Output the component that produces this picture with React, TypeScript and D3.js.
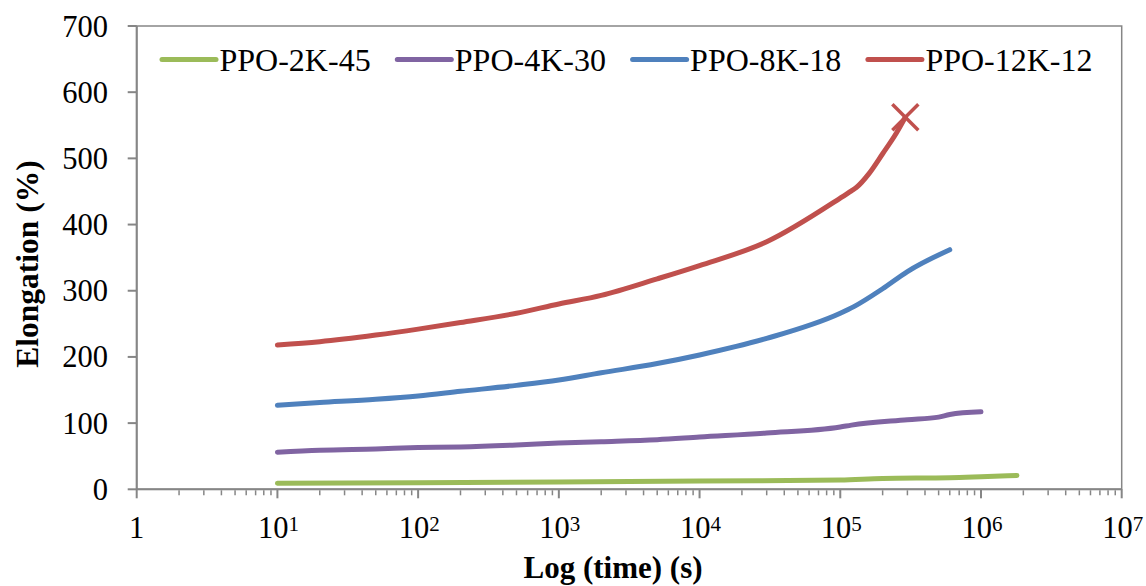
import React from "react";
import * as d3 from "d3";

// Elongation (%) versus time (s) for four PPO-based samples
const seriesNames = ["PPO-2K-45", "PPO-4K-30", "PPO-8K-18", "PPO-12K-12"];
const seriesColors = ["#9BBB59", "#8064A2", "#4F81BD", "#C0504D"];

const time2K = [10, 100, 1000, 1e4, 1e5, 2e5, 6e5, 1e6, 1.8e6];
const elong2K = [9, 10, 11, 12.5, 14, 16.5, 17.5, 19, 21];

const time4K = [10, 20, 50, 100, 200, 500, 1000, 2000, 5000, 1e4, 3e4, 1e5, 1.2e5, 3e5, 5e5, 6e5, 1e6];
const elong4K = [56, 59, 61, 63, 64, 67, 70, 72, 75, 79, 85, 94, 97, 105, 109, 113, 117];

const time8K = [10, 20, 50, 100, 200, 500, 1000, 2000, 5000, 1e4, 3e4, 1e5, 1.25e5, 2e5, 3e5, 6e5];
const elong8K = [127, 131, 136, 141, 148, 157, 165, 176, 190, 203, 228, 266, 276, 303, 329, 362];

const time12K = [10, 20, 50, 100, 200, 500, 1000, 2000, 5000, 1e4, 3e4, 1e5, 1.2e5, 1.3e5, 1.6e5, 2e5, 2.5e5, 2.9e5];
const elong12K = [218, 223, 233, 242, 252, 266, 280, 293, 318, 338, 374, 440, 451, 456, 477, 507, 538, 562];

const yTicks = [0, 100, 200, 300, 400, 500, 600, 700];
const xDecades = [0, 1, 2, 3, 4, 5, 6, 7];

const W = 1146;
const H = 586;
const left = 136.7;
const right = 1121.7;
const top = 26;
const bottom = 489.3;
const axisColor = "#868686";
const font = "'Liberation Serif', 'Times New Roman', serif";

export default function App() {
  const x = d3.scaleLog().domain([1, 1e7]).range([left, right]);
  const y = d3.scaleLinear().domain([0, 700]).range([bottom, top]);

  const series = [
    { t: time2K, v: elong2K },
    { t: time4K, v: elong4K },
    { t: time8K, v: elong8K },
    { t: time12K, v: elong12K },
  ];

  const line = d3
    .line<[number, number]>()
    .x((d) => x(d[0]))
    .y((d) => y(d[1]))
    .curve(d3.curveMonotoneX);

  const minorTicks: number[] = [];
  for (let e = 0; e < 7; e++) {
    for (let m = 2; m <= 9; m++) minorTicks.push(m * Math.pow(10, e));
  }

  const last12 = [time12K[time12K.length - 1], elong12K[elong12K.length - 1]];
  const mx = x(last12[0]);
  const my = y(last12[1]);
  const xs = 13;

  return (
    <svg
      width={W}
      height={H}
      style={{ position: "absolute", left: 0, top: 0, background: "#fff" }}
      fontFamily={font}
    >
      {/* plot frame */}
      <rect
        x={left}
        y={top}
        width={right - left}
        height={bottom - top}
        fill="none"
        stroke={axisColor}
        strokeWidth={1.5}
      />

      {/* y axis ticks and labels */}
      {yTicks.map((v) => (
        <g key={v}>
          <line x1={left - 9} x2={left} y1={y(v)} y2={y(v)} stroke={axisColor} strokeWidth={2} />
          <text x={108} y={y(v) + 10.5} textAnchor="end" fontSize={30.5} fill="#000">
            {v}
          </text>
        </g>
      ))}
      <line x1={left} x2={left} y1={top} y2={bottom} stroke={axisColor} strokeWidth={2} />

      {/* x axis: minor and major ticks */}
      {minorTicks.map((t) => (
        <line
          key={"m" + t}
          x1={x(t)}
          x2={x(t)}
          y1={bottom + 1}
          y2={bottom + 6}
          stroke={axisColor}
          strokeWidth={1.5}
        />
      ))}
      {xDecades.map((e) => (
        <g key={"d" + e}>
          <line
            x1={x(Math.pow(10, e))}
            x2={x(Math.pow(10, e))}
            y1={bottom}
            y2={bottom + 9}
            stroke={axisColor}
            strokeWidth={2}
          />
          {e === 0 ? (
            <text x={x(1)} y={538.3} textAnchor="middle" fontSize={30.5} fill="#000">
              1
            </text>
          ) : (
            <text x={x(Math.pow(10, e)) + 1} y={538.3} textAnchor="middle" fontSize={30.5} fill="#000">
              10
              <tspan fontSize={21} dy={-7}>
                {e}
              </tspan>
            </text>
          )}
        </g>
      ))}
      <line x1={left} x2={right} y1={bottom} y2={bottom} stroke={axisColor} strokeWidth={2} />

      {/* data lines */}
      {series.map((s, i) => (
        <path
          key={seriesNames[i]}
          d={line(s.t.map((t, j) => [t, s.v[j]] as [number, number])) || ""}
          fill="none"
          stroke={seriesColors[i]}
          strokeWidth={5}
          strokeLinecap="round"
          strokeLinejoin="round"
        />
      ))}

      {/* failure marker on PPO-12K-12 */}
      <g stroke={seriesColors[3]} strokeWidth={3.5}>
        <line x1={mx - xs} y1={my - xs} x2={mx + xs} y2={my + xs} />
        <line x1={mx - xs} y1={my + xs} x2={mx + xs} y2={my - xs} />
      </g>

      {/* legend */}
      {seriesNames.map((name, i) => {
        const lx = 162 + i * 235.3;
        return (
          <g key={"lg" + name}>
            <line
              x1={lx}
              x2={lx + 54}
              y1={59.5}
              y2={59.5}
              stroke={seriesColors[i]}
              strokeWidth={5}
              strokeLinecap="round"
            />
            <text x={lx + 57.5} y={71} fontSize={32} fill="#000">
              {name}
            </text>
          </g>
        );
      })}

      {/* axis titles */}
      <text x={613} y={578} textAnchor="middle" fontSize={31} fontWeight="bold" fill="#000">
        Log (time) (s)
      </text>
      <text
        transform={`translate(38, ${264}) rotate(-90)`}
        textAnchor="middle"
        fontSize={31.5}
        fontWeight="bold"
        fill="#000"
      >
        Elongation (%)
      </text>
    </svg>
  );
}
